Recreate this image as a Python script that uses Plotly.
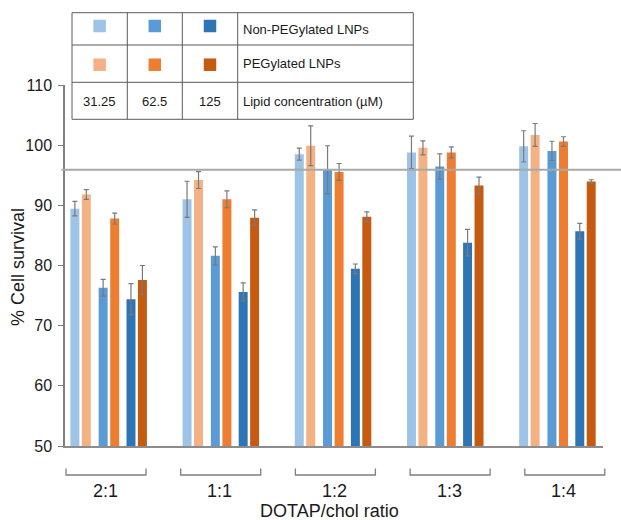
import plotly.graph_objects as go

# ---------------- data ----------------
categories = ["2:1", "1:1", "1:2", "1:3", "1:4"]
concentrations = ["31.25", "62.5", "125"]
series_names = [
    "Non-PEGylated 31.25", "PEGylated 31.25",
    "Non-PEGylated 62.5", "PEGylated 62.5",
    "Non-PEGylated 125", "PEGylated 125",
]
nonpeg_3125 = [89.45, 91.0, 98.5, 98.8, 99.8]
nonpeg_3125_err = [1.2, 3.0, 1.0, 2.7, 2.6]
peg_3125 = [91.8, 94.2, 99.9, 99.55, 101.7]
peg_3125_err = [0.8, 1.4, 3.3, 1.15, 1.9]
nonpeg_625 = [76.3, 81.6, 95.9, 96.45, 99.05]
nonpeg_625_err = [1.4, 1.5, 4.0, 2.1, 1.6]
peg_625 = [87.8, 91.0, 95.55, 98.8, 100.6]
peg_625_err = [0.9, 1.4, 1.4, 0.9, 0.8]
nonpeg_125 = [74.4, 75.6, 79.45, 83.8, 85.7]
nonpeg_125_err = [2.6, 1.5, 0.8, 2.2, 1.3]
peg_125 = [77.6, 87.95, 88.1, 93.3, 93.95]
peg_125_err = [2.4, 1.3, 0.8, 1.4, 0.3]
reference_level = 95.9
y_ticks = [50, 60, 70, 80, 90, 100, 110]

# ---------------- style ----------------
W, H = 621, 520
ML, MR, MT, MB = 65, 18, 85, 74
PW, PH = W - ML - MR, H - MT - MB
FONT = "Liberation Sans, Arial, sans-serif"
blues = ["#9DC3E6", "#5B9BD5", "#2E75B6"]
oranges = ["#F4B183", "#ED7D31", "#C55A11"]
colors = [blues[0], oranges[0], blues[1], oranges[1], blues[2], oranges[2]]
offsets = [-0.302, -0.2, -0.05, 0.053, 0.198, 0.3]
BAR_W = 0.08


def px_x(p):
    return (p - ML) / PW


def px_y(p):
    return (H - MB - p) / PH


values = [nonpeg_3125, peg_3125, nonpeg_625, peg_625, nonpeg_125, peg_125]
errors = [nonpeg_3125_err, peg_3125_err, nonpeg_625_err, peg_625_err,
          nonpeg_125_err, peg_125_err]

fig = go.Figure()
for name, vals, errs, col, off in zip(series_names, values, errors, colors, offsets):
    fig.add_trace(go.Bar(
        x=[i + off for i in range(len(categories))],
        y=vals,
        width=BAR_W,
        name=name,
        marker=dict(color=col, line=dict(width=0)),
        error_y=dict(type="data", array=errs, visible=True,
                     color="#7a7a7a", thickness=1.2, width=2.5),
        showlegend=False,
    ))

shapes = []
annotations = []

# reference line
shapes.append(dict(type="line", xref="paper", yref="y",
                   x0=px_x(61.5), x1=px_x(621), y0=reference_level, y1=reference_level,
                   line=dict(color="#a9a9a9", width=2)))

# category brackets and labels
for i, cat in enumerate(categories):
    cx = 106 + 114.7 * i
    x0, x1 = px_x(cx - 40), px_x(cx + 40)
    ytop, ybot = px_y(468.5), px_y(475)
    shapes.append(dict(type="path", xref="paper", yref="paper",
                       path=f"M {x0},{ytop} L {x0},{ybot} L {x1},{ybot} L {x1},{ytop}",
                       line=dict(color="#7f7f7f", width=1.3)))
    annotations.append(dict(text=cat, xref="paper", yref="paper",
                            x=px_x(cx - 1), y=px_y(491), showarrow=False,
                            xanchor="center", yanchor="middle",
                            font=dict(family=FONT, size=18, color="#1a1a1a")))

annotations.append(dict(text="DOTAP/chol ratio", xref="paper", yref="paper",
                        x=px_x(329), y=px_y(511), showarrow=False,
                        xanchor="center", yanchor="middle",
                        font=dict(family=FONT, size=18, color="#1a1a1a")))
annotations.append(dict(text="% Cell survival", xref="paper", yref="paper",
                        x=px_x(18), y=px_y(267), showarrow=False, textangle=-90,
                        xanchor="center", yanchor="middle",
                        font=dict(family=FONT, size=18, color="#1a1a1a")))

# legend table
col_x = [72, 127.3, 182.3, 237.7, 413.3]
row_y = [12.7, 45, 82.3, 119.3]
tcol = "#5a5a5a"
for yy in row_y:
    shapes.append(dict(type="line", xref="paper", yref="paper",
                       x0=px_x(col_x[0]), x1=px_x(col_x[-1]), y0=px_y(yy), y1=px_y(yy),
                       line=dict(color=tcol, width=1)))
for xx in col_x:
    shapes.append(dict(type="line", xref="paper", yref="paper",
                       x0=px_x(xx), x1=px_x(xx), y0=px_y(row_y[0]), y1=px_y(row_y[-1]),
                       line=dict(color=tcol, width=1)))
sq = 12.5
square_rows = [26, 64.7]
for r, palette in enumerate([blues, oranges]):
    for c in range(3):
        cx = (col_x[c] + col_x[c + 1]) / 2
        cy = square_rows[r]
        shapes.append(dict(type="rect", xref="paper", yref="paper",
                           x0=px_x(cx - sq / 2), x1=px_x(cx + sq / 2),
                           y0=px_y(cy + sq / 2), y1=px_y(cy - sq / 2),
                           fillcolor=palette[c], line=dict(width=0)))
for c, lab in enumerate(concentrations):
    cx = (col_x[c] + col_x[c + 1]) / 2
    annotations.append(dict(text=lab, xref="paper", yref="paper",
                            x=px_x(cx), y=px_y(101), showarrow=False,
                            xanchor="center", yanchor="middle",
                            font=dict(family=FONT, size=13, color="#1a1a1a")))
row_labels = ["Non-PEGylated LNPs", "PEGylated LNPs", "Lipid concentration (µM)"]
row_text_y = [29.5, 63.5, 101]
for lab, yy in zip(row_labels, row_text_y):
    annotations.append(dict(text=lab, xref="paper", yref="paper",
                            x=px_x(241), y=px_y(yy), showarrow=False,
                            xanchor="left", yanchor="middle",
                            font=dict(family=FONT, size=13, color="#1a1a1a")))

fig.update_layout(
    width=W, height=H,
    margin=dict(l=ML, r=MR, t=MT, b=MB, pad=0),
    paper_bgcolor="white", plot_bgcolor="white",
    barmode="overlay",
    font=dict(family=FONT, color="#1a1a1a"),
    xaxis=dict(range=[-0.39, 4.405], showticklabels=False, ticks="",
               showgrid=False, zeroline=False, showline=True,
               linecolor="#8c8c8c", linewidth=2.2),
    yaxis=dict(range=[50, 110], tickvals=y_ticks, ticks="outside", ticklen=5,
               tickcolor="#7f7f7f", tickwidth=1.3, showgrid=False, zeroline=False,
               showline=True, linecolor="#7f7f7f", linewidth=1.5,
               ticklabelstandoff=3,
               tickfont=dict(family=FONT, size=16, color="#1a1a1a")),
    shapes=shapes,
    annotations=annotations,
)

fig.write_html("out.html")
